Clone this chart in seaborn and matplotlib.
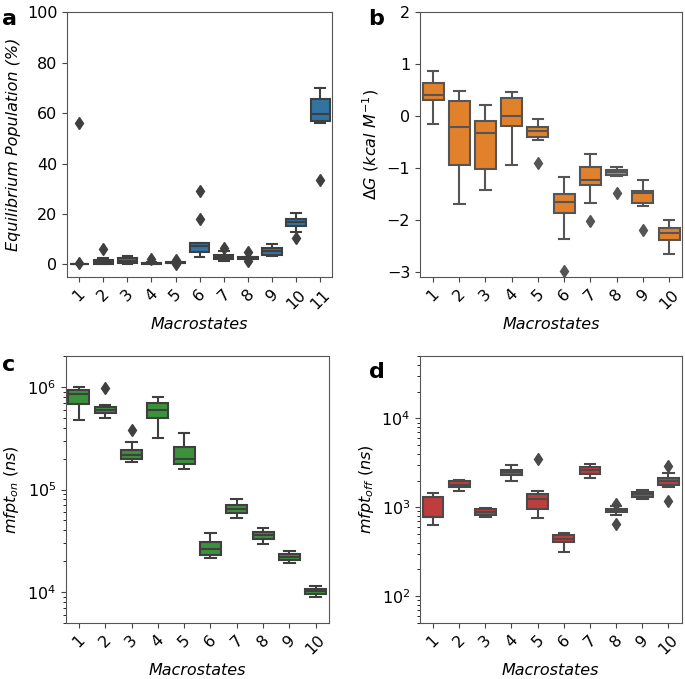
import matplotlib

matplotlib.use("Agg")
import matplotlib.pyplot as plt
import pandas as pd
import seaborn as sns
from matplotlib.ticker import LogLocator, NullFormatter

# equilibrium population (%) per macrostate, 9 replicas each
POP = [
    [0.0, 0.05, 0.1, 0.15, 0.2, 0.25, 0.3, 0.7, 56.0],
    [0.1, 0.2, 0.3, 0.6, 0.9, 1.3, 1.8, 2.6, 6.2],
    [0.2, 0.3, 0.4, 0.9, 1.4, 2.0, 2.5, 2.9, 3.3],
    [0.1, 0.2, 0.3, 0.4, 0.5, 0.6, 0.7, 1.0, 2.2],
    [0.05, 0.55, 0.6, 0.65, 0.7, 0.8, 0.9, 1.0, 1.9],
    [3.1, 4.5, 5.1, 6.3, 7.2, 7.9, 8.5, 18.2, 29.2],
    [1.3, 1.9, 2.3, 2.7, 3.0, 3.4, 3.8, 5.4, 6.6],
    [1.2, 2.1, 2.3, 2.4, 2.5, 2.6, 2.8, 3.0, 4.8],
    [3.3, 3.5, 3.7, 4.6, 5.4, 6.0, 6.5, 7.3, 8.2],
    [10.3, 12.7, 15.2, 16.0, 16.9, 17.5, 18.0, 19.3, 20.5],
    [33.6, 56.0, 56.8, 58.0, 59.7, 62.0, 65.6, 68.0, 70.1],
]

# binding free energy (kcal/M)
DG = [
    [-0.15, 0.2, 0.30, 0.36, 0.41, 0.5, 0.645, 0.75, 0.87],
    [-1.69, -1.3, -0.94, -0.5, -0.22, 0.0, 0.29, 0.4, 0.49],
    [-1.42, -1.2, -1.01, -0.6, -0.33, -0.2, -0.09, 0.1, 0.22],
    [-0.94, -0.5, -0.20, -0.1, 0.0, 0.2, 0.34, 0.4, 0.47],
    [-0.91, -0.47, -0.40, -0.33, -0.29, -0.26, -0.22, -0.15, -0.06],
    [-2.99, -2.37, -1.87, -1.75, -1.65, -1.58, -1.51, -1.35, -1.17],
    [-2.03, -1.67, -1.33, -1.28, -1.23, -1.1, -0.98, -0.85, -0.73],
    [-1.48, -1.16, -1.14, -1.11, -1.08, -1.06, -1.03, -1.0, -0.98],
    [-2.19, -1.74, -1.68, -1.55, -1.48, -1.47, -1.45, -1.35, -1.23],
    [-2.65, -2.5, -2.39, -2.32, -2.26, -2.2, -2.16, -2.08, -2.01],
]

# mean first passage time, binding (ns)
MFPT_ON = [
    [4.8e5, 6.0e5, 6.9e5, 7.8e5, 8.6e5, 9.0e5, 9.3e5, 9.7e5, 1.0e6],
    [5.0e5, 5.3e5, 5.6e5, 5.8e5, 6.0e5, 6.2e5, 6.4e5, 6.7e5, 9.8e5],
    [1.87e5, 1.92e5, 1.97e5, 2.1e5, 2.2e5, 2.3e5, 2.41e5, 2.89e5, 3.85e5],
    [3.2e5, 4.2e5, 5.0e5, 5.6e5, 6.0e5, 6.5e5, 7.0e5, 7.6e5, 8.1e5],
    [1.6e5, 1.7e5, 1.76e5, 1.9e5, 2.01e5, 2.3e5, 2.58e5, 3.1e5, 3.6e5],
    [2.14e4, 2.2e4, 2.27e4, 2.45e4, 2.6e4, 2.85e4, 3.09e4, 3.4e4, 3.76e4],
    [5.27e4, 5.6e4, 5.9e4, 6.2e4, 6.41e4, 6.7e4, 7.02e4, 7.6e4, 8.17e4],
    [2.91e4, 3.1e4, 3.28e4, 3.45e4, 3.59e4, 3.72e4, 3.87e4, 4.05e4, 4.24e4],
    [1.92e4, 2.0e4, 2.07e4, 2.14e4, 2.2e4, 2.26e4, 2.32e4, 2.42e4, 2.52e4],
    [8.9e3, 9.3e3, 9.6e3, 9.9e3, 1.02e4, 1.05e4, 1.07e4, 1.1e4, 1.14e4],
]

# mean first passage time, unbinding (ns)
MFPT_OFF = [
    [627, 700, 785, 785, 785, 1000, 1290, 1380, 1430],
    [1540, 1600, 1680, 1750, 1800, 1880, 1960, 2000, 2030],
    [771, 800, 820, 860, 893, 920, 950, 965, 975],
    [1960, 2150, 2330, 2420, 2500, 2580, 2640, 2800, 2980],
    [751, 850, 949, 1100, 1250, 1330, 1410, 1540, 3540],
    [316, 380, 410, 425, 440, 465, 492, 500, 509],
    [2160, 2260, 2360, 2480, 2610, 2730, 2850, 2980, 3100],
    [643, 820, 880, 905, 925, 940, 950, 1030, 1100],
    [1250, 1280, 1310, 1360, 1400, 1440, 1480, 1520, 1560],
    [1180, 1670, 1800, 1900, 2000, 2080, 2150, 2420, 2880],
]

FS = 11.5


def to_long(groups):
    rows = []
    for i, vals in enumerate(groups, start=1):
        for v in vals:
            rows.append({"state": str(i), "value": v})
    return pd.DataFrame(rows)


def draw(ax, groups, color, linecolor, ylabel, log=False):
    df = to_long(groups)
    sns.boxplot(
        data=df, x="state", y="value", ax=ax, color=color,
        linecolor=linecolor, linewidth=1.5, width=0.8,
        flierprops=dict(marker="d", markerfacecolor=linecolor,
                        markeredgecolor=linecolor, markersize=6),
    )
    if log:
        ax.set_yscale("log")
        ax.yaxis.set_major_locator(LogLocator(base=10))
        ax.yaxis.set_minor_locator(LogLocator(base=10, subs=range(2, 10)))
        ax.yaxis.set_minor_formatter(NullFormatter())
    ax.set_xlabel("Macrostates", fontsize=FS, fontstyle="italic")
    ax.set_ylabel(ylabel, fontsize=FS)
    ax.tick_params(axis="both", labelsize=FS, color="#444444")
    ax.tick_params(axis="x", rotation=45)
    for s in ax.spines.values():
        s.set_color("#555555")


fig = plt.figure(figsize=(6.85, 6.79), dpi=100)
ax_a = fig.add_axes([0.098, 0.592, 0.387, 0.390])
ax_b = fig.add_axes([0.613, 0.592, 0.383, 0.390])
ax_c = fig.add_axes([0.096, 0.083, 0.384, 0.392])
ax_d = fig.add_axes([0.613, 0.083, 0.382, 0.392])

draw(ax_a, POP, "tab:blue", "#3f3f3f", "Equilibrium Population (%)")
ax_a.yaxis.label.set_fontstyle("italic")
ax_a.set_ylim(-5, 100)

draw(ax_b, DG, "tab:orange", "#555555", r"$\Delta G\ (kcal\ M^{-1})$")
ax_b.set_ylim(-3.1, 2)
ax_b.set_yticks([-3, -2, -1, 0, 1, 2])

draw(ax_c, MFPT_ON, "tab:green", "#3f3f3f", r"$mfpt_{on}\ (ns)$", log=True)
ax_c.set_ylim(5e3, 2e6)

draw(ax_d, MFPT_OFF, "tab:red", "#4a4a4a", r"$mfpt_{off}\ (ns)$", log=True)
ax_d.set_ylim(50, 5e4)

for x, y, lab in [(0.003, 0.972, "a"), (0.537, 0.972, "b"),
                  (0.003, 0.462, "c"), (0.539, 0.452, "d")]:
    fig.text(x, y, lab, fontsize=16, fontweight="bold", va="center")

fig.savefig("out.png", dpi=100)
